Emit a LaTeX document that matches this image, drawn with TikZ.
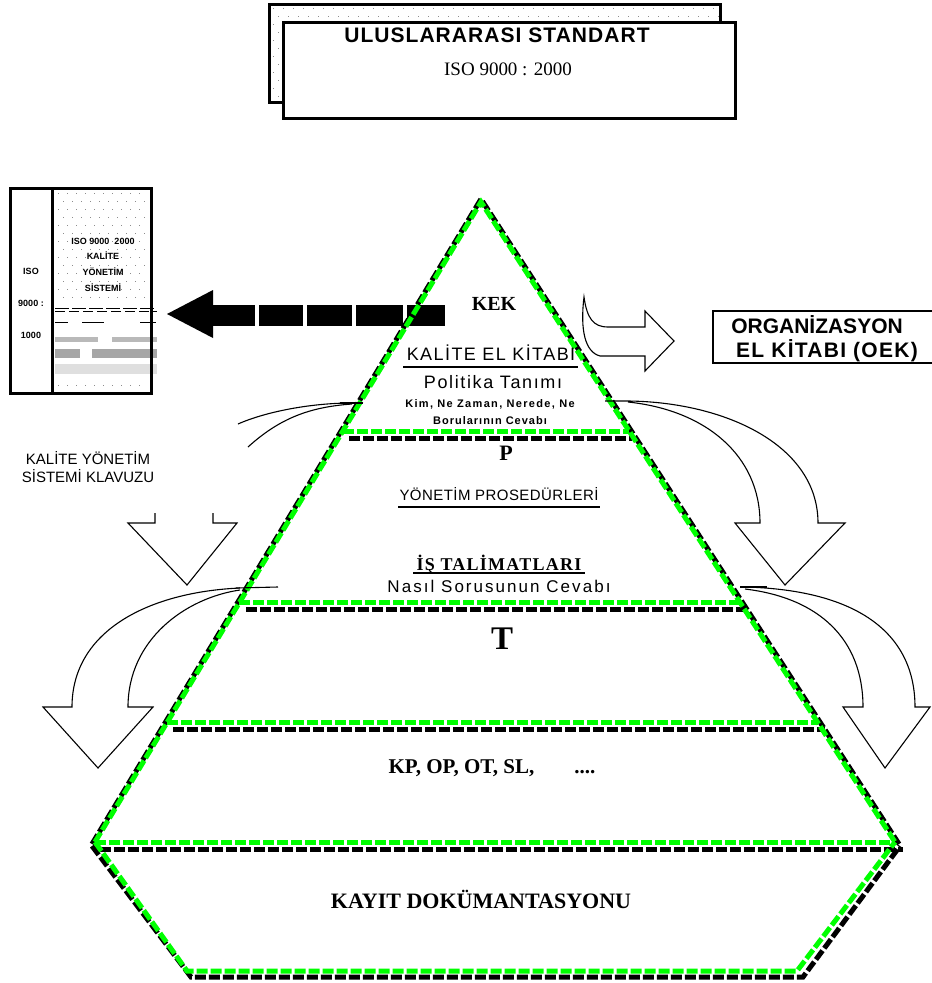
\documentclass[tikz,border=0pt]{standalone}
\usepackage{fontspec}
\setmainfont{Liberation Serif}
\setsansfont{Liberation Sans}
\usetikzlibrary{calc}
\definecolor{lgreen}{RGB}{0,255,0}
\definecolor{dotgray}{RGB}{140,140,140}
\newcommand{\fsz}[1]{\fontsize{#1}{#1}\selectfont}
\newcommand{\lsp}[1]{\addfontfeatures{LetterSpace=#1}}
\begin{document}
\begin{tikzpicture}[x=1pt,y=-1pt,
  gline/.style={draw=lgreen,line width=5pt,dash pattern=on 11pt off 3pt},
  kline/.style={draw=black,line width=5pt,dash pattern=on 11pt off 3pt},
  hollow/.style={draw=black,line width=1.1pt,line join=miter},
  frame/.style={draw=black,line width=3pt},
  lbl/.style={inner sep=0pt,anchor=base},
  dotfill/.style={fill=dotgray}]
\useasboundingbox (0,0) rectangle (932,983);

% ---------- top standard box ----------
\foreach \r in {0,...,11}{\foreach \c in {0,...,44}{
  \fill[dotgray] ({273+10*\c+5*mod(\r,2)},{8+8*\r}) rectangle ++(1.4,1.4);}}
\draw[frame] (269,4) rectangle (720,102);
\draw[frame,fill=white] (283,22) rectangle (735,118);
\node[lbl,font=\sffamily\bfseries\fsz{21}\lsp{5}] (std) at (497,42) {ULUSLARARASI STANDART};
\node[lbl,font=\rmfamily\fsz{19}] (iso) at (508,75) {ISO 9000 : 2000};

% ---------- left box ----------
\foreach \r in {0,...,24}{\foreach \c in {0,...,9}{
  \fill[dotgray] ({58+9*\c+4.5*mod(\r,2)},{193+8*\r}) rectangle ++(1.4,1.4);}}
\fill[white] (54,305) rectangle (150,379);
\draw[line width=0.8pt,dash pattern=on 14pt off 3pt] (55,308) -- (157,308);
\draw[line width=0.8pt,dash pattern=on 10pt off 4pt] (55,311) -- (157,311);
\draw[line width=0.8pt] (55,322) -- (68,322) (82,322) -- (104,322) (140,322) -- (156,322);
\fill[gray!55] (55,337) rectangle (98,342);
\fill[gray!55] (112,337) rectangle (157,342);
\fill[gray!70] (55,349) rectangle (80,358);
\fill[gray!70] (92,349) rectangle (157,358);
\fill[gray!25] (55,364) rectangle (157,374);
\draw[frame] (10,188) rectangle (151,393);
\draw[frame] (52,188) -- (52,393);
\node[lbl,font=\sffamily\bfseries\fsz{9}] (iso1) at (31,274) {ISO};
\node[lbl,font=\sffamily\bfseries\fsz{9}] (iso2) at (31,306) {9000 :};
\node[lbl,font=\sffamily\bfseries\fsz{9}] (iso3) at (31,338) {1000};
\node[lbl,font=\sffamily\bfseries\fsz{9}] (kys1) at (103,244) {ISO 9000\ \ 2000};
\node[lbl,font=\sffamily\bfseries\fsz{9}] (kys2) at (103,259) {KALİTE};
\node[lbl,font=\sffamily\bfseries\fsz{9}] (kys3) at (103,275) {YÖNETİM};
\node[lbl,font=\sffamily\bfseries\fsz{9}] (kys4) at (103,291) {SİSTEMİ};

% ---------- big black dashed arrow ----------
\fill (167,314) -- (213,290) -- (213,338) -- cycle;
\foreach \a/\b in {213/255,259/303,307/352,356/403,407/445}{\fill (\a,305) rectangle (\b,326);}

% ---------- pyramid ----------
\draw[kline] (92,844) -- (481,199) -- (899,844);
\draw[kline] (92,846) -- (191,977) -- (803,977) -- (900,846);
\draw[kline] (349,438) -- (632,438);
\draw[kline] (246,609) -- (745,609);
\draw[kline] (173,729) -- (825,729);
\draw[kline] (100,849) -- (903,849);

\coordinate (A) at (481,202);
\coordinate (L1) at (343,431); \coordinate (R1) at (629,431);
\coordinate (L2) at (239,602); \coordinate (R2) at (741,602);
\coordinate (L3) at (167,722); \coordinate (R3) at (818,722);
\coordinate (L4) at (95,842);  \coordinate (R4) at (895,842);
\coordinate (B1) at (187,971); \coordinate (B2) at (797,971);
\draw[gline] (L4) -- (A) -- (R4);
\draw[gline] (L1) -- (R1);
\draw[gline] (L2) -- (R2);
\draw[gline] (L3) -- (R3);
\draw[gline] (L4) -- (R4);
\draw[gline] (L4) -- (B1) -- (B2) -- (R4);

% ---------- pyramid texts ----------
\node[lbl,font=\rmfamily\bfseries\fsz{20}] (kek) at (494,310) {KEK};
\node[lbl,font=\sffamily\fsz{18}\lsp{8}] (kel) at (491,360) {KALİTE EL KİTABI};
\draw[line width=1.2pt] (403,367) -- (578,367);
\node[lbl,font=\sffamily\fsz{18}\lsp{9}] (pol) at (493,388) {Politika Tanımı};
\node[lbl,font=\sffamily\bfseries\fsz{11}\lsp{12}] (kim) at (490,407) {Kim, Ne Zaman, Nerede, Ne};
\node[lbl,font=\sffamily\bfseries\fsz{11}\lsp{9}] (bor) at (490,424) {Borularının Cevabı};
\node[lbl,font=\rmfamily\bfseries\fsz{22}] (p) at (506,460) {P};
\node[lbl,font=\sffamily\fsz{15}\lsp{3}] (yon) at (499,500) {YÖNETİM PROSEDÜRLERİ};
\draw[line width=1.2pt] (398,507) -- (600,507);
\node[lbl,font=\rmfamily\bfseries\fsz{18}\lsp{7}] (ist) at (499,570) {İŞ TALİMATLARI};
\draw[line width=1.4pt] (413,573) -- (585,573);
\node[lbl,font=\sffamily\fsz{17}\lsp{12}] (nas) at (499,592) {Nasıl Sorusunun Cevabı};
\node[lbl,font=\rmfamily\bfseries\fsz{33}] (t) at (502,649) {T};
\node[lbl,font=\rmfamily\bfseries\fsz{21}] (kp) at (492,773) {KP, OP, OT, SL,\hspace{40pt}....};
\node[lbl,font=\rmfamily\bfseries\fsz{22}] (kayit) at (481,908) {KAYIT DOKÜMANTASYONU};

% ---------- hollow arrows ----------
% to OEK
\draw[hollow] (584,297) .. controls (587,318) and (593,327) .. (608,327) -- (645,327) -- (645,311)
  -- (674,341) -- (645,371) -- (645,356) -- (600,356) .. controls (585,352) and (580,330) .. (584,297) -- cycle;
% right upper curved arrow
\draw[hollow] (605,401) -- (628,401) .. controls (725,402) and (818,445) .. (818,523)
  -- (845,523) -- (785,585) -- (735,523) -- (760,523) .. controls (760,455) and (705,410) .. (628,402);
% left upper curved arrow (partly drawn)
\draw[hollow] (340,403) -- (363,403);
\draw[hollow] (352,403) .. controls (310,403) and (265,412) .. (238,424);
\draw[hollow] (352,404) .. controls (310,407) and (280,418) .. (248,447);
\draw[hollow] (155,513) -- (155,523) -- (128,523) -- (187,585) -- (237,523) -- (213,523) -- (213,513);
% left lower curved arrow
\draw[hollow] (236,588) -- (278,587);
\draw[hollow] (240,588) .. controls (150,592) and (72,630) .. (72,707) -- (43,707) -- (98,768)
  -- (153,707) -- (128,707) .. controls (128,640) and (185,598) .. (240,590);
% right lower curved arrow
\draw[hollow] (740,587) -- (767,587);
\draw[hollow] (745,587) .. controls (860,590) and (915,635) .. (915,707) -- (930,707) -- (885,768)
  -- (843,707) -- (863,707) .. controls (863,640) and (820,598) .. (745,589);

% ---------- OEK box ----------
\draw[line width=1.5pt] (934,311) -- (713,311) -- (713,363) -- (934,363);
\node[lbl,font=\sffamily\bfseries\fsz{21}] (org1) at (817,333) {ORGANİZASYON};
\node[lbl,font=\sffamily\bfseries\fsz{21}\lsp{6}] (org2) at (827,357) {EL KİTABI (OEK)};

% ---------- guide text ----------
\node[lbl,font=\sffamily\fsz{15}] (kyk1) at (88,464) {KALİTE YÖNETİM};
\node[lbl,font=\sffamily\fsz{15}] (kyk2) at (88,482) {SİSTEMİ KLAVUZU};
\end{tikzpicture}
\end{document}
